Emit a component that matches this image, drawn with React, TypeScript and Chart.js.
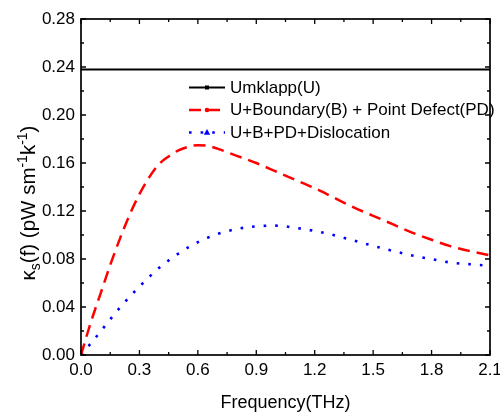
import React, { useEffect, useRef } from 'react';
import { Chart, registerables } from 'chart.js';

Chart.register(...registerables);

// ---- data ----
const freq = [0, 0.05, 0.1, 0.15, 0.2, 0.25, 0.3, 0.35, 0.4, 0.45, 0.5, 0.55, 0.6, 0.65, 0.7, 0.8, 0.9, 1.0, 1.1, 1.2, 1.3, 1.4, 1.5, 1.6, 1.7, 1.8, 1.9, 2.0, 2.1];
const umklappX = [0, 2.1];
const umklappY = [0.238, 0.238];
const boundaryPD = [0, 0.027, 0.051, 0.075, 0.097, 0.117, 0.134, 0.148, 0.159, 0.1655, 0.1705, 0.1735, 0.1748, 0.1743, 0.172, 0.166, 0.16, 0.153, 0.146, 0.139, 0.131, 0.123, 0.116, 0.109, 0.102, 0.096, 0.0905, 0.0865, 0.083];
const dislocation = [0, 0.0096, 0.0195, 0.0297, 0.0395, 0.0485, 0.057, 0.065, 0.0725, 0.0788, 0.0845, 0.0896, 0.094, 0.0977, 0.1008, 0.105, 0.1072, 0.1078, 0.106, 0.1033, 0.0998, 0.0954, 0.091, 0.0868, 0.083, 0.0799, 0.077, 0.0756, 0.0744];
const seriesLabels = ['Umklapp(U)', 'U+Boundary(B) + Point Defect(PD)', 'U+B+PD+Dislocation'];
const xTickValues = [0, 0.3, 0.6, 0.9, 1.2, 1.5, 1.8, 2.1];
const yTickValues = [0, 0.04, 0.08, 0.12, 0.16, 0.2, 0.24, 0.28];
const xTitle = 'Frequency(THz)';
// y title pieces: [text, kind] kind: n=normal, sub, sup
const yTitleParts: [string, string][] = [['κ', 'n'], ['s', 'sub'], ['(f) (pW sm', 'n'], ['-1', 'sup'], ['k', 'n'], ['-1', 'sup'], [')', 'n']];

const FONT = "'Liberation Sans', Arial, sans-serif";

const framePlugin = {
  id: 'frameTicks',
  afterDraw(chart: any) {
    const { ctx, chartArea } = chart;
    const { left, right, top, bottom } = chartArea;
    const xs = chart.scales.x;
    const ys = chart.scales.y;
    ctx.save();
    ctx.strokeStyle = '#000';
    ctx.lineWidth = 1.7;
    ctx.strokeRect(left, top, right - left, bottom - top);
    ctx.lineWidth = 1.3;
    const major = 5, minor = 3;
    const drawX = (v: number, len: number) => {
      const p = xs.getPixelForValue(v);
      ctx.beginPath();
      ctx.moveTo(p, bottom); ctx.lineTo(p, bottom - len);
      ctx.moveTo(p, top); ctx.lineTo(p, top + len);
      ctx.stroke();
    };
    const drawY = (v: number, len: number) => {
      const p = ys.getPixelForValue(v);
      ctx.beginPath();
      ctx.moveTo(left, p); ctx.lineTo(left + len, p);
      ctx.moveTo(right, p); ctx.lineTo(right - len, p);
      ctx.stroke();
    };
    xTickValues.forEach((v, i) => {
      drawX(v, major);
      if (i < xTickValues.length - 1) drawX((v + xTickValues[i + 1]) / 2, minor);
    });
    yTickValues.forEach((v, i) => {
      drawY(v, major);
      if (i < yTickValues.length - 1) drawY((v + yTickValues[i + 1]) / 2, minor);
    });
    ctx.restore();
  },
};

const legendPlugin = {
  id: 'customLegend',
  afterDraw(chart: any) {
    const { ctx } = chart;
    const x0 = 189, x1 = 225, tx = 230, y0 = 87.5, dy = 22.5;
    ctx.save();
    chart.data.datasets.forEach((ds: any, i: number) => {
      const y = y0 + i * dy;
      ctx.strokeStyle = ds.borderColor;
      ctx.lineWidth = ds.borderWidth;
      ctx.setLineDash(ds.borderDash || []);
      ctx.beginPath();
      ctx.moveTo(x0, y); ctx.lineTo(x1, y);
      ctx.stroke();
      ctx.setLineDash([]);
      const mx = (x0 + x1) / 2;
      ctx.fillStyle = ds.borderColor;
      if (i === 0) {
        ctx.fillRect(mx - 2, y - 2, 4, 4);
      } else if (i === 1) {
        ctx.beginPath(); ctx.arc(mx, y, 2.3, 0, Math.PI * 2); ctx.fill();
      } else {
        ctx.beginPath(); ctx.moveTo(mx, y - 3.5); ctx.lineTo(mx + 3.2, y + 2.3); ctx.lineTo(mx - 3.2, y + 2.3); ctx.closePath(); ctx.fill();
      }
      ctx.fillStyle = '#000';
      ctx.font = `17px ${FONT}`;
      ctx.textBaseline = 'middle';
      ctx.textAlign = 'left';
      ctx.fillText(ds.label, tx, y + 0.5);
    });
    ctx.restore();
  },
};

const yTitlePlugin = {
  id: 'yTitle',
  afterDraw(chart: any) {
    const { ctx } = chart;
    const big = 20.5, small = 14;
    ctx.save();
    const widths = yTitleParts.map(([t, k]) => {
      ctx.font = `${k === 'n' ? big : small}px ${FONT}`;
      return ctx.measureText(t).width;
    });
    const total = widths.reduce((a, b) => a + b, 0);
    const cx = 35, cy = 203;
    ctx.translate(cx, cy);
    ctx.rotate(-Math.PI / 2);
    ctx.fillStyle = '#000';
    ctx.textBaseline = 'alphabetic';
    ctx.textAlign = 'left';
    let x = -total / 2;
    yTitleParts.forEach(([t, k], i) => {
      ctx.font = `${k === 'n' ? big : small}px ${FONT}`;
      const off = k === 'sub' ? 4.5 : k === 'sup' ? -8 : 0;
      ctx.fillText(t, x, off);
      x += widths[i];
    });
    ctx.restore();
  },
};

export default function App() {
  const ref = useRef<HTMLCanvasElement>(null);
  useEffect(() => {
    document.body.style.margin = '0';
    const canvas = ref.current!;
    const chart = new Chart(canvas, {
      type: 'line',
      data: {
        datasets: [
          {
            label: seriesLabels[0],
            data: umklappX.map((x, i) => ({ x, y: umklappY[i] })),
            borderColor: '#000000',
            borderWidth: 2,
            pointRadius: 0,
            fill: false,
          },
          {
            label: seriesLabels[1],
            data: freq.map((x, i) => ({ x, y: boundaryPD[i] })),
            borderColor: '#ff0000',
            borderWidth: 2.5,
            borderDash: [12, 7],
            pointRadius: 0,
            cubicInterpolationMode: 'monotone',
            fill: false,
          },
          {
            label: seriesLabels[2],
            data: freq.map((x, i) => ({ x, y: dislocation[i] })),
            borderColor: '#0000ff',
            borderWidth: 2.6,
            borderDash: [2.6, 9],
            pointRadius: 0,
            cubicInterpolationMode: 'monotone',
            fill: false,
          },
        ],
      },
      options: {
        animation: false,
        responsive: false,
        maintainAspectRatio: false,
        layout: { padding: { left: 0, right: 10, top: 19, bottom: 0 } },
        plugins: { legend: { display: false }, tooltip: { enabled: false }, title: { display: false } },
        scales: {
          x: {
            type: 'linear',
            min: 0,
            max: 2.1,
            grid: { display: false, drawTicks: false },
            border: { display: false },
            afterBuildTicks: (s: any) => { s.ticks = xTickValues.map((v) => ({ value: v })); },
            afterFit: (s: any) => { s.height = 60; s.paddingLeft = 0; s.paddingRight = 0; },
            ticks: {
              color: '#000',
              font: { family: FONT, size: 17 },
              padding: 5,
              maxRotation: 0,
              autoSkip: false,
              callback: (v: any) => Number(v).toFixed(1),
            },
            title: {
              display: true,
              text: xTitle,
              color: '#000',
              font: { family: FONT, size: 18 },
              padding: { top: 0, bottom: 1 },
            },
          },
          y: {
            type: 'linear',
            min: 0,
            max: 0.28,
            grid: { display: false, drawTicks: false },
            border: { display: false },
            afterBuildTicks: (s: any) => { s.ticks = yTickValues.map((v) => ({ value: v })); },
            afterFit: (s: any) => { s.width = 81; s.paddingTop = 0; s.paddingBottom = 0; },
            ticks: {
              color: '#000',
              font: { family: FONT, size: 17 },
              padding: 6,
              autoSkip: false,
              callback: (v: any) => Number(v).toFixed(2),
            },
          },
        },
      },
      plugins: [framePlugin, legendPlugin, yTitlePlugin],
    } as any);
    return () => chart.destroy();
  }, []);
  return (
    <div style={{ width: 500, height: 415 }}>
      <canvas ref={ref} width={500} height={415} style={{ display: 'block' }} />
    </div>
  );
}
